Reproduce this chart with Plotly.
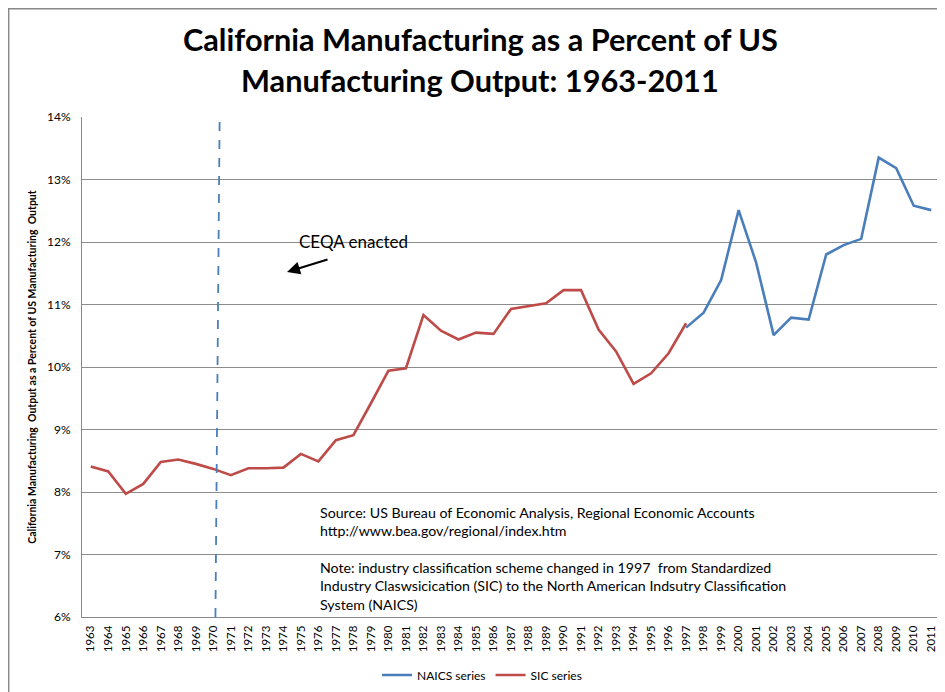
import plotly.graph_objects as go

years = list(range(1963, 2012))

sic_years = list(range(1963, 1998))
sic_values = [8.41, 8.33, 7.97, 8.13, 8.48, 8.52, 8.45, 8.37, 8.27, 8.38,
              8.38, 8.39, 8.61, 8.49, 8.83, 8.91, 9.42, 9.94, 9.98, 10.83,
              10.58, 10.44, 10.55, 10.53, 10.93, 10.97, 11.02, 11.23, 11.23, 10.60,
              10.25, 9.73, 9.90, 10.22, 10.70]

naics_years = list(range(1997, 2012))
naics_values = [10.63, 10.87, 11.39, 12.51, 11.67, 10.51, 10.79, 10.76, 11.80, 11.95,
                12.05, 13.35, 13.18, 12.58, 12.51]

y_ticks = [6, 7, 8, 9, 10, 11, 12, 13, 14]
CEQA_YEAR = 1970

title_lines = ["California Manufacturing as a Percent of US", "Manufacturing Output: 1963-2011"]

FONT = "Lato"
BLUE = "#4A7EBB"
RED = "#BE4B48"

# page body adds an 8px offset, so the figure is 8px smaller than the window
W, H = 937, 684
L, T = 74, 109
PW, PH = 858, 500


def px(x):
    return (x - 8 - L) / PW


def py(y):
    return 1 + (T - (y - 8)) / PH


fig = go.Figure()
fig.add_trace(go.Scatter(x=naics_years, y=naics_values, mode="lines", name="NAICS series",
                         line=dict(color=BLUE, width=2.6)))
fig.add_trace(go.Scatter(x=sic_years, y=sic_values, mode="lines", name="SIC series",
                         line=dict(color=RED, width=2.6)))

fig.update_layout(
    width=W, height=H,
    margin=dict(l=L, r=W - L - PW, t=T, b=H - T - PH, autoexpand=False),
    paper_bgcolor="white", plot_bgcolor="white",
    font=dict(family=FONT, color="black"),
    showlegend=True,
    legend=dict(orientation="h", x=px(482), xanchor="center", y=py(675), yanchor="middle",
                font=dict(family=FONT, size=12), itemwidth=30, traceorder="normal",
                bgcolor="rgba(0,0,0,0)"),
    xaxis=dict(range=[min(years) - 0.5, max(years) + 0.5], tickmode="array",
               tickvals=years, ticktext=[str(y) for y in years], tickangle=-90,
               tickfont=dict(family=FONT, size=11.5), showgrid=False, zeroline=False,
               showline=True, linecolor="#888888", linewidth=1, ticks="",
               ticklabelstandoff=3),
    yaxis=dict(range=[min(y_ticks), max(y_ticks)], tickmode="array", tickvals=y_ticks,
               ticktext=[f"{t}%" for t in y_ticks], tickfont=dict(family=FONT, size=12),
               showgrid=True, gridcolor="#8C8C8C", gridwidth=1, zeroline=False,
               showline=True, linecolor="#888888", linewidth=1, ticks="",
               ticklabelstandoff=8,
               title=dict(text="<b>California Manufacturing  Output as a Percent of US Manufacturing  Output</b>",
                          font=dict(family=FONT, size=10.5), standoff=8)),
)

# title (two lines)
for line, yc in zip(title_lines, [39, 81]):
    fig.add_annotation(xref="paper", yref="paper", x=px(480), y=py(yc), text=f"<b>{line}</b>",
                       showarrow=False, xanchor="center", yanchor="middle",
                       font=dict(family=FONT, size=30.7, color="black"))

# CEQA vertical dashed line
fig.add_shape(type="line", xref="x", yref="y", x0=CEQA_YEAR + 0.12, x1=CEQA_YEAR + 0.36,
              y0=min(y_ticks), y1=max(y_ticks), line=dict(color=BLUE, width=1.8, dash="dash"))

# outer chart border
fig.add_shape(type="rect", xref="paper", yref="paper", x0=px(8.7), x1=1.05, y0=-0.3, y1=py(8.7),
              line=dict(color="#888888", width=1.4), fillcolor="rgba(0,0,0,0)", layer="above")

fig.add_annotation(xref="paper", yref="paper", x=px(297), y=py(241),
                   text="CEQA enacted", showarrow=False, xanchor="left", yanchor="middle",
                   font=dict(family=FONT, size=17, color="black"))
fig.add_annotation(xref="paper", yref="paper", axref="pixel", ayref="pixel",
                   x=px(287), y=py(272), ax=42, ay=-13,
                   text="", showarrow=True, arrowhead=2, arrowsize=1.3, arrowwidth=2, arrowcolor="black")

fig.add_annotation(xref="paper", yref="paper", x=px(318), y=py(521),
                   text="Source: US Bureau of Economic Analysis, Regional Economic Accounts<br>http://www.bea.gov/regional/index.htm",
                   showarrow=False, xanchor="left", yanchor="middle", align="left",
                   font=dict(family=FONT, size=14.2, color="black"))
fig.add_annotation(xref="paper", yref="paper", x=px(318), y=py(586),
                   text="Note: industry classification scheme changed in 1997  from Standardized<br>Industry Claswsicication (SIC) to the North American Indsutry Classification<br>System (NAICS)",
                   showarrow=False, xanchor="left", yanchor="middle", align="left",
                   font=dict(family=FONT, size=14.2, color="black"))

fig.write_html("out.html")
